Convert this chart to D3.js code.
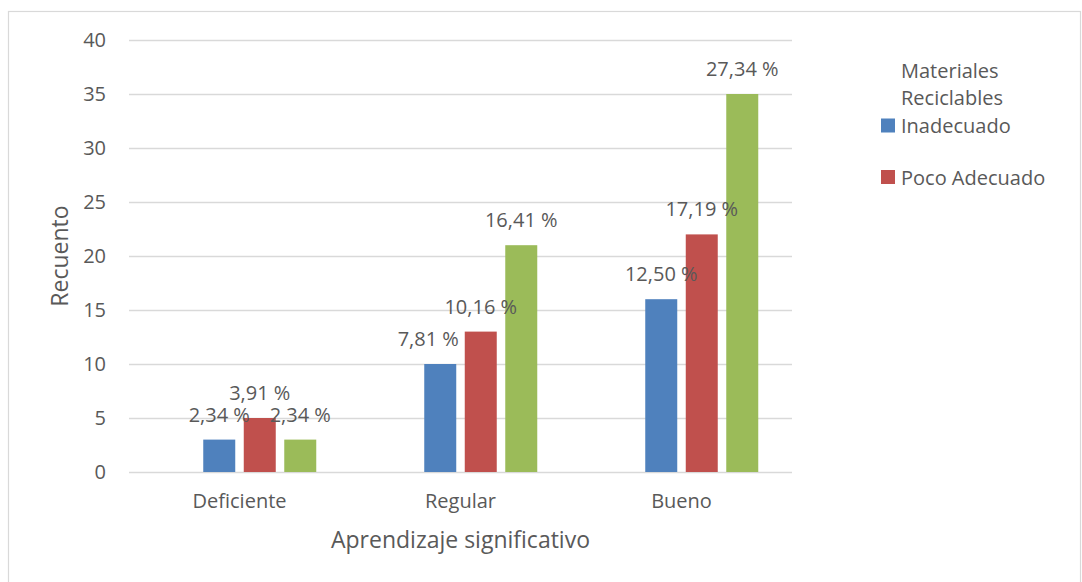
<!DOCTYPE html>
<html>
<head>
<meta charset="utf-8">
<script src="https://cdn.jsdelivr.net/npm/d3@7"></script>
<style>
  html, body { margin: 0; padding: 0; background: #fff; }
  svg { display: block; }
  text { font-family: "Open Sans", "Noto Sans", sans-serif; fill: #595959; }
</style>
</head>
<body>
<svg id="chart" width="1082" height="582"></svg>
<script>
// Counts per learning level, one array per recycled-materials group
const categories = ["Deficiente", "Regular", "Bueno"];
const seriesNames = ["Inadecuado", "Poco Adecuado", "Adecuado"];
const inadecuado = [3, 10, 16];
const pocoAdecuado = [5, 13, 22];
const adecuado = [3, 21, 35];
const percentLabels = [
  ["2,34 %", "7,81 %", "12,50 %"],
  ["3,91 %", "10,16 %", "17,19 %"],
  ["2,34 %", "16,41 %", "27,34 %"]
];
const yTicks = [0, 5, 10, 15, 20, 25, 30, 35, 40];
const legendTitle = ["Materiales", "Reciclables"];
const legendItems = ["Inadecuado", "Poco Adecuado"];

const seriesValues = [inadecuado, pocoAdecuado, adecuado];
const colors = ["#4F81BD", "#C0504D", "#9BBB59"];

const svg = d3.select("#chart");

// outer frame
svg.append("rect")
  .attr("x", 8.5).attr("y", 11.5)
  .attr("width", 1072).attr("height", 620)
  .attr("fill", "none").attr("stroke", "#d9d9d9").attr("stroke-width", 1.2);

const plot = { left: 129, right: 792, top: 40, bottom: 472 };

const x0 = d3.scaleBand().domain(categories).range([plot.left, plot.right]).padding(0);
const y = d3.scaleLinear().domain([0, 40]).range([plot.bottom, plot.top]);

// four slots per category; the first one is left empty, bars fill slots 1..3
const bw = x0.bandwidth();
const slotSpan = bw * 0.6946;
const x1 = d3.scaleBand()
  .domain(d3.range(4))
  .range([(bw - slotSpan) / 2, (bw + slotSpan) / 2])
  .paddingInner(0.21)
  .paddingOuter(0);

// gridlines
const yAxis = d3.axisLeft(y).tickValues(yTicks)
  .tickSize(-(plot.right - plot.left)).tickPadding(23).tickFormat(d3.format("d"));
const gy = svg.append("g").attr("transform", `translate(${plot.left},0)`).call(yAxis);
gy.select(".domain").remove();
gy.selectAll(".tick line").attr("stroke", "#d9d9d9").attr("stroke-width", 1.3);
gy.selectAll(".tick text")
  .attr("font-size", 20).attr("fill", "#595959")
  .attr("font-family", "'Open Sans', sans-serif");

// category axis labels
const xAxis = d3.axisBottom(x0).tickSize(0).tickPadding(22);
const gx = svg.append("g").attr("transform", `translate(0,${plot.bottom})`).call(xAxis);
gx.select(".domain").remove();
gx.selectAll(".tick text")
  .attr("font-size", 20).attr("fill", "#595959")
  .attr("font-family", "'Open Sans', sans-serif");

// bars
const groups = svg.append("g").selectAll("g")
  .data(categories)
  .join("g")
  .attr("transform", d => `translate(${x0(d)},0)`);

seriesValues.forEach((vals, s) => {
  groups.append("rect")
    .attr("x", x1(s + 1))
    .attr("width", x1.bandwidth())
    .attr("y", (d, i) => y(vals[i]))
    .attr("height", (d, i) => y(0) - y(vals[i]))
    .attr("fill", colors[s]);
});

// value labels
seriesValues.forEach((vals, s) => {
  groups.append("text")
    .attr("x", (d, i) => {
      let cx = x1(s + 1) + x1.bandwidth() / 2;
      // nudge the Regular/Inadecuado label left so it clears its neighbour
      if (s === 0 && i === 1) cx -= 12;
      return cx;
    })
    .attr("y", (d, i) => y(vals[i]) - 18)
    .attr("text-anchor", "middle")
    .attr("font-size", 20)
    .text((d, i) => percentLabels[s][i]);
});

// axis titles
svg.append("text")
  .attr("x", (plot.left + plot.right) / 2)
  .attr("y", 548)
  .attr("text-anchor", "middle")
  .attr("font-size", 23)
  .text("Aprendizaje significativo");

svg.append("text")
  .attr("transform", `translate(68,${(plot.top + plot.bottom) / 2}) rotate(-90)`)
  .attr("text-anchor", "middle")
  .attr("font-size", 23)
  .text("Recuento");

// legend
const legend = svg.append("g");
legend.selectAll("text.title")
  .data(legendTitle)
  .join("text")
  .attr("class", "title")
  .attr("x", 901)
  .attr("y", (d, i) => 78 + i * 27)
  .attr("font-size", 20)
  .text(d => d);

const items = legend.selectAll("g.item")
  .data(legendItems)
  .join("g")
  .attr("class", "item")
  .attr("transform", (d, i) => `translate(0,${133 + i * 51.5})`);
items.append("rect")
  .attr("x", 881).attr("y", -14.5)
  .attr("width", 14).attr("height", 14)
  .attr("fill", (d, i) => colors[i]);
items.append("text")
  .attr("x", 901).attr("y", 0)
  .attr("font-size", 20)
  .text(d => d);
</script>
</body>
</html>
